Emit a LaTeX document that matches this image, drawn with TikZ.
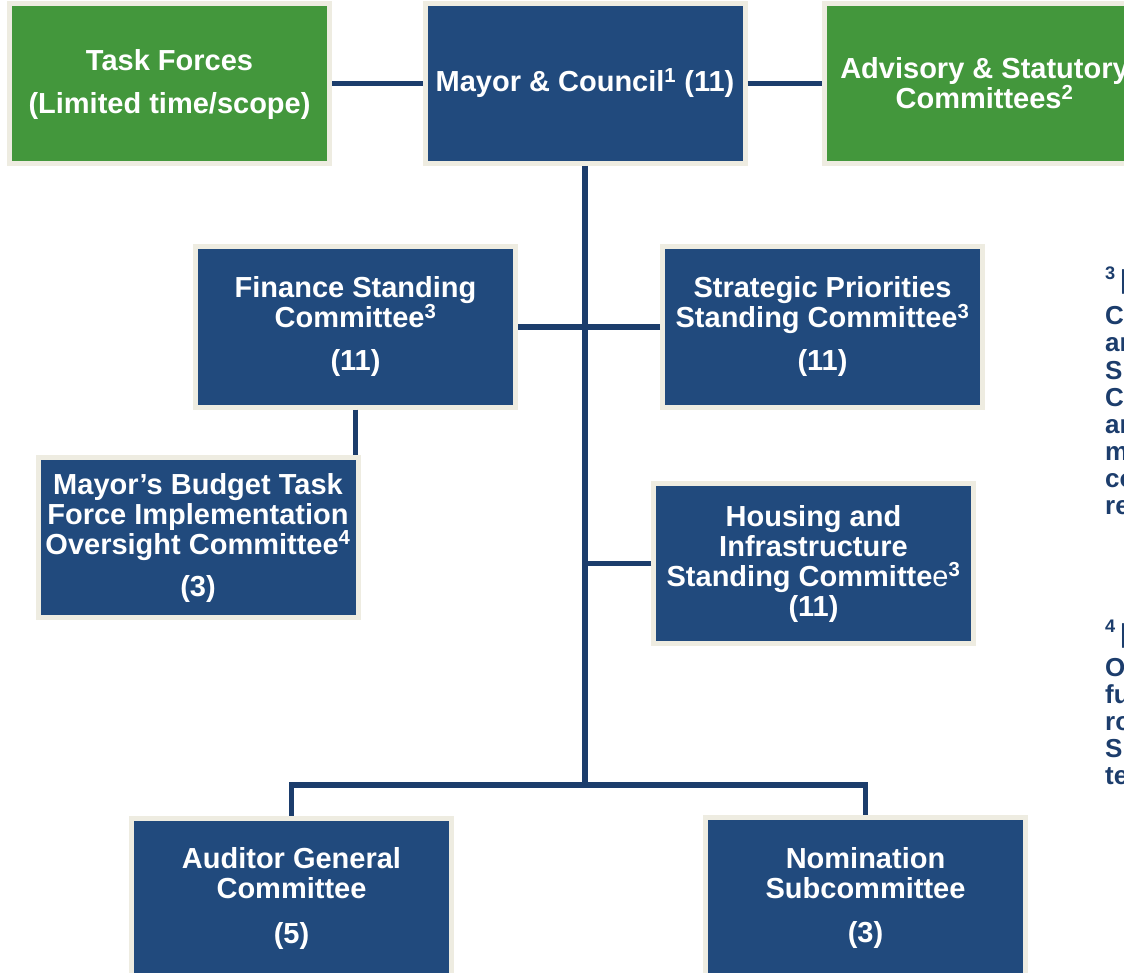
\documentclass[tikz,border=0pt]{standalone}
\usepackage{fontspec}
\setmainfont{Liberation Sans}
\definecolor{navy}{HTML}{214A7D}
\definecolor{linec}{HTML}{1C3D6C}
\definecolor{grn}{HTML}{43973C}
\definecolor{rim}{HTML}{EEECE1}
\begin{document}
\begin{tikzpicture}[x=1pt,y=-1pt,
 box/.style={draw=rim, line width=5pt, minimum width=320pt, minimum height=160pt, inner sep=0pt, align=center, text=white, font=\fontsize{29}{30}\selectfont\bfseries},
 bluebox/.style={box, fill=navy},
 greenbox/.style={box, fill=grn},
 conn/.style={draw=linec, line width=5.5pt},
 note/.style={anchor=base west, inner sep=0pt, text=linec, font=\fontsize{26}{27}\selectfont\bfseries}]
\useasboundingbox (0,0) rectangle (1124,973);
\clip (0,0) rectangle (1124,973);

\node[greenbox] (task) at (169.5,83.5) {\rule{0pt}{24pt}Task Forces\\[13pt](Limited time/scope)};
\node[bluebox] (mayor) at (585,83.5) {Mayor \& Council\textsuperscript{1} (11)};
\node[greenbox] (adv) at (984.5,83.5) {Advisory \& Statutory\\Committees\textsuperscript{2}};

\node[bluebox] (fin) at (355.5,327) {Finance Standing\\Committee\textsuperscript{3}\\[13pt](11)};
\node[bluebox] (strat) at (822.5,327) {Strategic Priorities\\Standing Committee\textsuperscript{3}\\[13pt](11)};
\node[bluebox] (budget) at (198,537.5) {Mayor’s Budget Task\\Force Implementation\\Oversight Committee\textsuperscript{4}\\[12pt](3)};
\node[bluebox] (housing) at (813.5,563.5) {Housing and\\Infrastructure\\Standing Committe{\mdseries e}\textsuperscript{3}\\(11)};
\node[bluebox] (auditor) at (291.5,898) {Auditor General\\Committee\\[15pt](5)};
\node[bluebox] (nom) at (865.5,897.5) {Nomination\\Subcommittee\\[14pt](3)};

\coordinate (jn) at (585,785);
\draw[conn] (task.east) -- (mayor.west);
\draw[conn] (mayor.east) -- (adv.west);
\draw[conn] (mayor.south) -- (jn);
\draw[conn] (fin.east) -- (fin.east -| jn);
\draw[conn] (strat.west) -- (strat.west -| jn);
\draw[conn] (fin.south) -- (fin.south |- budget.north);
\draw[conn] (housing.west) -- (housing.west -| jn);
\draw[conn] (auditor.north) |- (jn) -| (nom.north);

\node[note] (hA) at (1105,289) {\textsuperscript{3}\,|};
\foreach \t [count=\i] in {C,ar,S,C,ar,m,co,re}
  \node[note] (nA\i) at (1105,298+27*\i) {\t};
\node[note] (hB) at (1105,642) {\textsuperscript{4}\,|};
\foreach \t [count=\i] in {O,fu,ro,S,te}
  \node[note] (nB\i) at (1105,649+27*\i) {\t};
\end{tikzpicture}
\end{document}
